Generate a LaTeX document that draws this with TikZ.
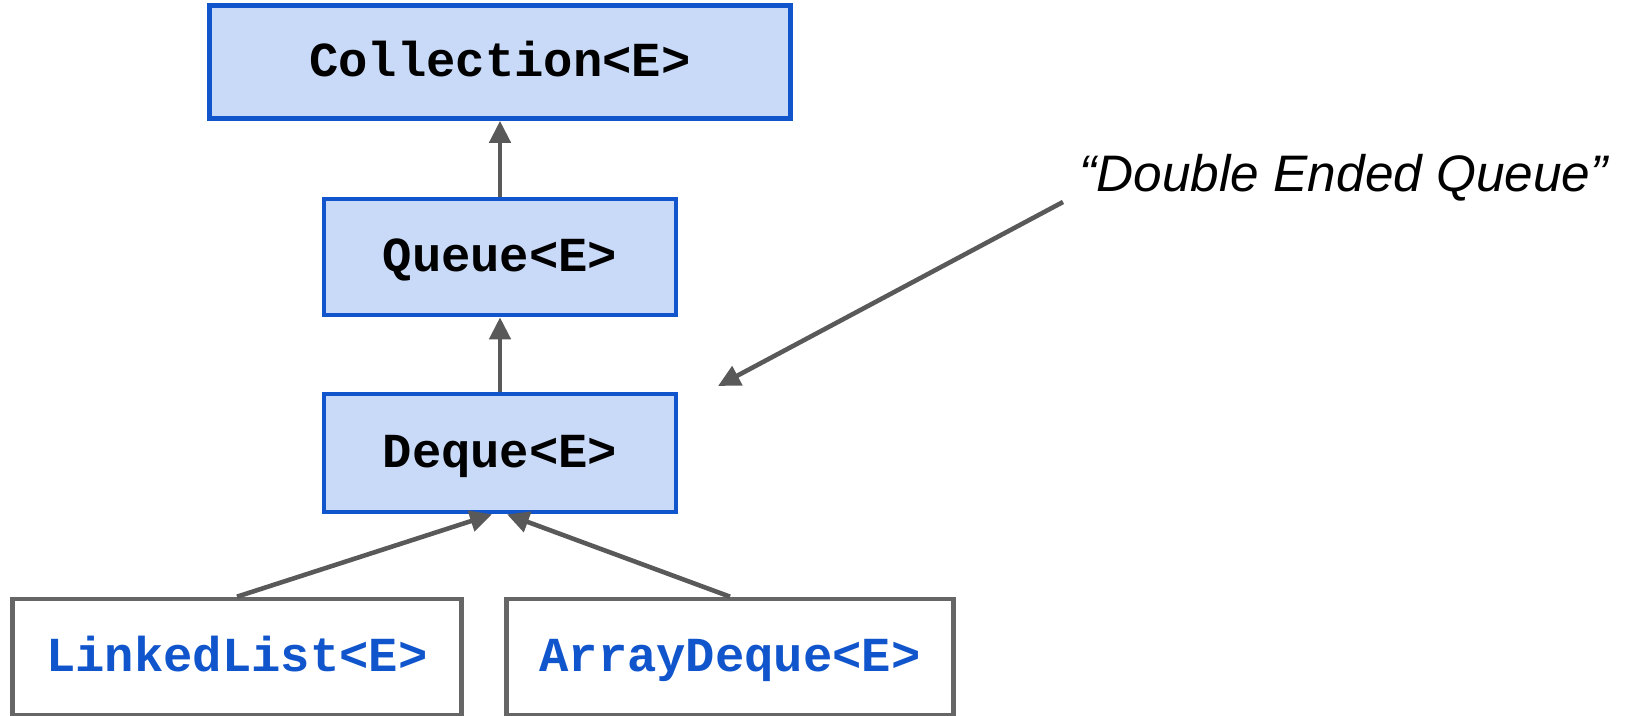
\documentclass[tikz,border=0pt]{standalone}
\usepackage{fontspec}
\setmonofont{Liberation Mono}
\setsansfont{Liberation Sans}
\usetikzlibrary{arrows.meta}

\definecolor{ifacefill}{HTML}{C9DAF8}
\definecolor{ifaceline}{HTML}{1155CC}
\definecolor{arrowgray}{HTML}{595959}
\definecolor{boxgray}{HTML}{666666}

\tikzset{
    iface/.style={draw=ifaceline, fill=ifacefill, line width=1.3pt, inner sep=0pt,
        text height=0.96em, text depth=0.12em,
        font=\ttfamily\bfseries\fontsize{13.9}{16}\selectfont},
    impl/.style={draw=boxgray, fill=white, line width=1.3pt, inner sep=0pt, text=ifaceline,
        text height=0.96em, text depth=0.12em,
        font=\ttfamily\bfseries\fontsize{13.9}{16}\selectfont},
    inherit/.style={draw=arrowgray, line width=1.3pt, -{Triangle[length=0.22cm, width=0.21cm]}}
}

\begin{document}
\begin{tikzpicture}[x=0.01cm, y=-0.01cm]
        \useasboundingbox (0, 0) rectangle (1643, 716);

        % Interfaces
        \node[iface, minimum width=5.81cm, minimum height=1.13cm] (coll) at (500, 62) {Collection<E>};
        \node[iface, minimum width=3.52cm, minimum height=1.16cm] (queue) at (500, 257) {Queue<E>};
        \node[iface, minimum width=3.52cm, minimum height=1.18cm] (deque) at (500, 453) {Deque<E>};

        % Implementations
        \node[impl, minimum width=4.49cm, minimum height=1.16cm] (linked) at (237, 657) {LinkedList<E>};
        \node[impl, minimum width=4.47cm, minimum height=1.16cm] (array) at (730, 657) {ArrayDeque<E>};

        % Inheritance arrows
        \draw[inherit] (queue.north) -- (coll.south);
        \draw[inherit] (deque.north) -- (queue.south);
        \draw[inherit] (linked.north) -- ([xshift=-0.08cm]deque.south);
        \draw[inherit] (array.north) -- ([xshift=0.07cm]deque.south);

        % Note
        \node[anchor=base west, inner sep=0pt, font=\sffamily\itshape\fontsize{14.6}{17}\selectfont] (note) at (1079, 192) {“Double Ended Queue”};
        \coordinate (pointer) at (718, 386);
        \draw[inherit] ([shift={(-16, 10)}]note.base west) -- (pointer);
\end{tikzpicture}
\end{document}
